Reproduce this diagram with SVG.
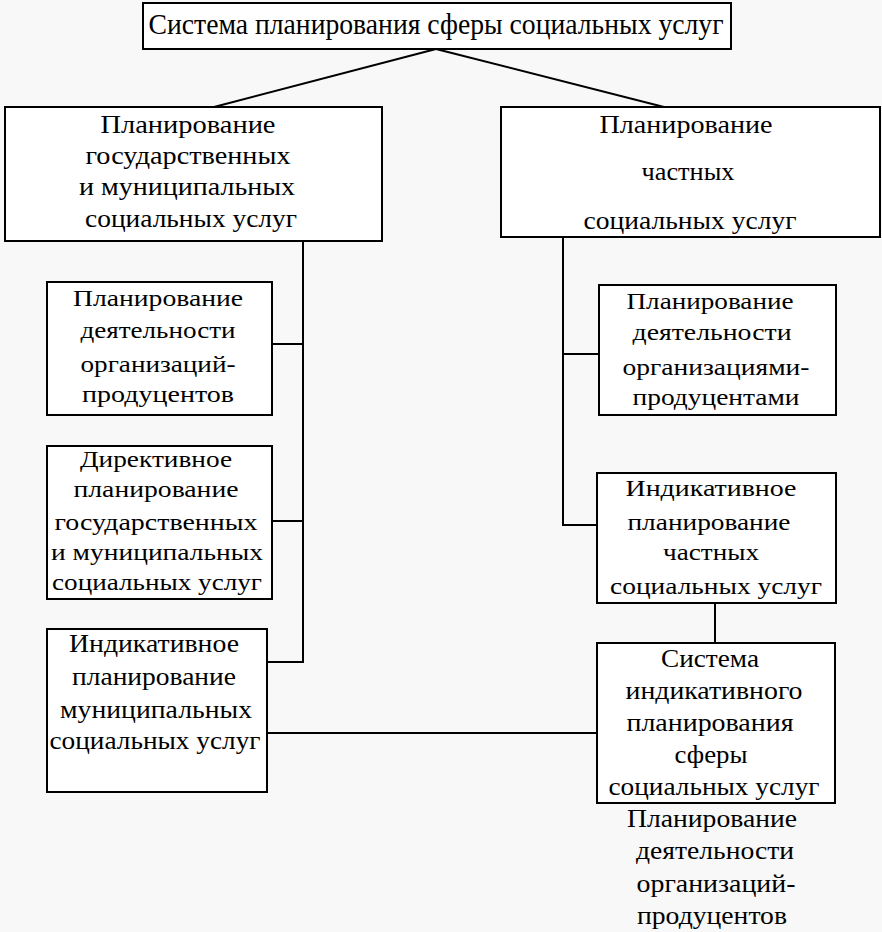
<svg xmlns="http://www.w3.org/2000/svg" width="882" height="932" viewBox="0 0 882 932">
<style>
.bg{fill:#f8f8f8}
.box{fill:#fff;stroke:#000;stroke-width:2}
.ln{stroke:#000;stroke-width:2;fill:none}
text{font-family:"Liberation Serif","Times New Roman",serif;font-size:26px;fill:#000;text-anchor:middle}
.s{font-size:24px}
.t{font-size:29px}
</style>
<rect class="bg" x="0" y="0" width="882" height="932"/>
<g id="connectors">
<line class="ln" x1="436" y1="49" x2="214" y2="107"/>
<line class="ln" x1="436" y1="49" x2="664" y2="107"/>
<polyline class="ln" points="303,241 303,662 267,662"/>
<line class="ln" x1="272" y1="344" x2="303" y2="344"/>
<line class="ln" x1="272" y1="521" x2="303" y2="521"/>
<polyline class="ln" points="563,237 563,525 597,525"/>
<line class="ln" x1="563" y1="354" x2="599" y2="354"/>
<line class="ln" x1="715" y1="603" x2="715" y2="643"/>
<line class="ln" x1="267" y1="733" x2="597" y2="733"/>
</g>
<g id="top">
<rect class="box" x="143" y="3" width="588" height="46"/>
<text class="t" x="436" y="34" textLength="575" lengthAdjust="spacingAndGlyphs">Система планирования сферы социальных услуг</text>
</g>
<g id="left0">
<rect class="box" x="5" y="107" width="377" height="134"/>
<text x="188" y="133" textLength="175" lengthAdjust="spacingAndGlyphs">Планирование</text>
<text x="188" y="164" textLength="205" lengthAdjust="spacingAndGlyphs">государственных</text>
<text x="187" y="195" textLength="216" lengthAdjust="spacingAndGlyphs">и муниципальных</text>
<text x="191" y="227" textLength="212" lengthAdjust="spacingAndGlyphs">социальных услуг</text>
</g>
<g id="right0">
<rect class="box" x="501" y="107" width="379" height="130"/>
<text x="686" y="133" textLength="173" lengthAdjust="spacingAndGlyphs">Планирование</text>
<text x="688" y="180" textLength="93" lengthAdjust="spacingAndGlyphs">частных</text>
<text x="690" y="229" textLength="213" lengthAdjust="spacingAndGlyphs">социальных услуг</text>
</g>
<g id="left1">
<rect class="box" x="47" y="282" width="225" height="133"/>
<text class="s" x="158" y="306" textLength="170" lengthAdjust="spacingAndGlyphs">Планирование</text>
<text class="s" x="158" y="338" textLength="155" lengthAdjust="spacingAndGlyphs">деятельности</text>
<text class="s" x="158" y="372" textLength="155" lengthAdjust="spacingAndGlyphs">организаций-</text>
<text class="s" x="158" y="402" textLength="152" lengthAdjust="spacingAndGlyphs">продуцентов</text>
</g>
<g id="left2">
<rect class="box" x="47" y="446" width="225" height="153"/>
<text class="s" x="156" y="467" textLength="152" lengthAdjust="spacingAndGlyphs">Директивное</text>
<text class="s" x="156" y="497" textLength="165" lengthAdjust="spacingAndGlyphs">планирование</text>
<text class="s" x="156" y="530" textLength="203" lengthAdjust="spacingAndGlyphs">государственных</text>
<text class="s" x="157" y="560" textLength="212" lengthAdjust="spacingAndGlyphs">и муниципальных</text>
<text class="s" x="157" y="590" textLength="210" lengthAdjust="spacingAndGlyphs">социальных услуг</text>
</g>
<g id="left3">
<rect class="box" x="47" y="629" width="220" height="163"/>
<text x="154" y="652" textLength="170" lengthAdjust="spacingAndGlyphs">Индикативное</text>
<text x="154" y="685" textLength="164" lengthAdjust="spacingAndGlyphs">планирование</text>
<text x="156" y="718" textLength="192" lengthAdjust="spacingAndGlyphs">муниципальных</text>
<text x="155" y="749" textLength="211" lengthAdjust="spacingAndGlyphs">социальных услуг</text>
</g>
<g id="right1">
<rect class="box" x="599" y="285" width="237" height="130"/>
<text class="s" x="710" y="309" textLength="167" lengthAdjust="spacingAndGlyphs">Планирование</text>
<text class="s" x="712" y="340" textLength="159" lengthAdjust="spacingAndGlyphs">деятельности</text>
<text class="s" x="716" y="375" textLength="187" lengthAdjust="spacingAndGlyphs">организациями-</text>
<text class="s" x="716" y="405" textLength="167" lengthAdjust="spacingAndGlyphs">продуцентами</text>
</g>
<g id="right2">
<rect class="box" x="597" y="473" width="239" height="130"/>
<text class="s" x="711" y="496" textLength="171" lengthAdjust="spacingAndGlyphs">Индикативное</text>
<text class="s" x="709" y="530" textLength="163" lengthAdjust="spacingAndGlyphs">планирование</text>
<text class="s" x="711" y="560" textLength="96" lengthAdjust="spacingAndGlyphs">частных</text>
<text class="s" x="716" y="594" textLength="212" lengthAdjust="spacingAndGlyphs">социальных услуг</text>
</g>
<g id="right3">
<rect class="box" x="597" y="643" width="238" height="160"/>
<text x="710" y="667" textLength="98" lengthAdjust="spacingAndGlyphs">Система</text>
<text x="714" y="699" textLength="177" lengthAdjust="spacingAndGlyphs">индикативного</text>
<text x="710" y="731" textLength="167" lengthAdjust="spacingAndGlyphs">планирования</text>
<text x="711" y="763" textLength="73" lengthAdjust="spacingAndGlyphs">сферы</text>
<text x="714" y="795" textLength="211" lengthAdjust="spacingAndGlyphs">социальных услуг</text>
</g>
<g id="bottom-text">
<text x="712" y="827" textLength="170" lengthAdjust="spacingAndGlyphs">Планирование</text>
<text x="715" y="859" textLength="158" lengthAdjust="spacingAndGlyphs">деятельности</text>
<text x="716" y="892" textLength="159" lengthAdjust="spacingAndGlyphs">организаций-</text>
<text x="712" y="924" textLength="150" lengthAdjust="spacingAndGlyphs">продуцентов</text>
</g>
</svg>
